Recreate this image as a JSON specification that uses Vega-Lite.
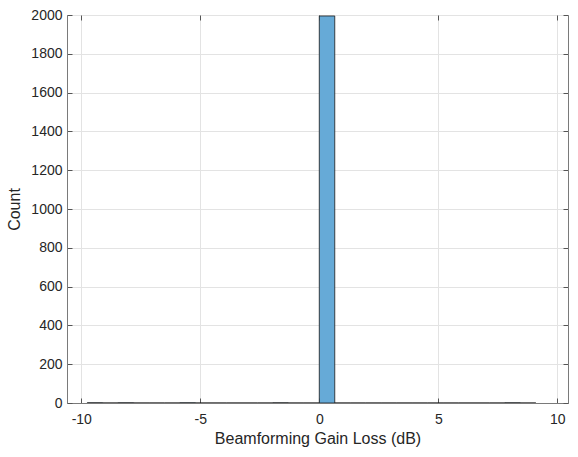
{
  "$schema": "https://vega.github.io/schema/vega-lite/v6.json",
  "autosize": "none",
  "padding": {"left": 67, "top": 15, "right": 10, "bottom": 54},
  "width": 501,
  "height": 388,
  "background": "white",
  "config": {
    "font": "Liberation Sans",
    "view": {"stroke": "#7a7a7a", "strokeWidth": 1},
    "axis": {
      "domainColor": "#7a7a7a",
      "tickColor": "#555555",
      "gridColor": "#e3e3e3",
      "labelColor": "#262626",
      "titleColor": "#262626",
      "labelFontSize": 14,
      "titleFontSize": 16,
      "titleFontWeight": "normal",
      "tickSize": -5
    }
  },
  "data": {
    "values": [
      {"bin_start": -9.75, "bin_end": -9.1, "count": 1},
      {"bin_start": -9.1, "bin_end": -8.45, "count": 0},
      {"bin_start": -8.45, "bin_end": -7.8, "count": 1},
      {"bin_start": -7.8, "bin_end": -7.15, "count": 0},
      {"bin_start": -7.15, "bin_end": -6.5, "count": 0},
      {"bin_start": -6.5, "bin_end": -5.85, "count": 0},
      {"bin_start": -5.85, "bin_end": -5.2, "count": 1},
      {"bin_start": -5.2, "bin_end": -4.55, "count": 0},
      {"bin_start": -4.55, "bin_end": -3.9, "count": 0},
      {"bin_start": -3.9, "bin_end": -3.25, "count": 0},
      {"bin_start": -3.25, "bin_end": -2.6, "count": 0},
      {"bin_start": -2.6, "bin_end": -1.95, "count": 0},
      {"bin_start": -1.95, "bin_end": -1.3, "count": 1},
      {"bin_start": -1.3, "bin_end": -0.65, "count": 0},
      {"bin_start": -0.65, "bin_end": 0, "count": 0},
      {"bin_start": 0, "bin_end": 0.65, "count": 1995},
      {"bin_start": 0.65, "bin_end": 1.3, "count": 0},
      {"bin_start": 1.3, "bin_end": 1.95, "count": 0},
      {"bin_start": 1.95, "bin_end": 2.6, "count": 0},
      {"bin_start": 2.6, "bin_end": 3.25, "count": 0},
      {"bin_start": 3.25, "bin_end": 3.9, "count": 0},
      {"bin_start": 3.9, "bin_end": 4.55, "count": 0},
      {"bin_start": 4.55, "bin_end": 5.2, "count": 0},
      {"bin_start": 5.2, "bin_end": 5.85, "count": 0},
      {"bin_start": 5.85, "bin_end": 6.5, "count": 0},
      {"bin_start": 6.5, "bin_end": 7.15, "count": 0},
      {"bin_start": 7.15, "bin_end": 7.8, "count": 0},
      {"bin_start": 7.8, "bin_end": 8.45, "count": 1},
      {"bin_start": 8.45, "bin_end": 9.1, "count": 0}
    ]
  },
  "layer": [
    {
      "mark": {"type": "bar", "fill": "#66aad7", "stroke": "#1a1a1a", "strokeWidth": 0.8, "clip": true},
      "encoding": {
        "x": {
          "field": "bin_start",
          "type": "quantitative",
          "scale": {"domain": [-10.6, 10.45], "nice": false, "zero": false},
          "axis": {
            "title": "Beamforming Gain Loss (dB)",
            "values": [-10, -5, 0, 5, 10],
            "labelExpr": "datum.value < 0 ? '-' + abs(datum.value) : '' + datum.value",
            "labelPadding": 14,
            "titlePadding": 4
          }
        },
        "x2": {"field": "bin_end"},
        "y": {
          "field": "count",
          "type": "quantitative",
          "scale": {"domain": [0, 2000], "nice": false},
          "axis": {
            "title": "Count",
            "values": [0, 200, 400, 600, 800, 1000, 1200, 1400, 1600, 1800, 2000],
            "format": "d",
            "labelPadding": 10,
            "titlePadding": 8
          }
        },
        "y2": {"datum": 0}
      }
    },
    {
      "mark": {"type": "bar", "opacity": 0},
      "encoding": {
        "x": {
          "field": "bin_start",
          "type": "quantitative",
          "axis": {"orient": "top", "title": null, "labels": false, "grid": false, "domain": false, "values": [-10, -5, 0, 5, 10]}
        },
        "x2": {"field": "bin_end"},
        "y": {
          "field": "count",
          "type": "quantitative",
          "axis": {"orient": "right", "title": null, "labels": false, "grid": false, "domain": false, "values": [0, 200, 400, 600, 800, 1000, 1200, 1400, 1600, 1800, 2000]}
        },
        "y2": {"datum": 0}
      }
    }
  ],
  "resolve": {"axis": {"x": "independent", "y": "independent"}}
}
